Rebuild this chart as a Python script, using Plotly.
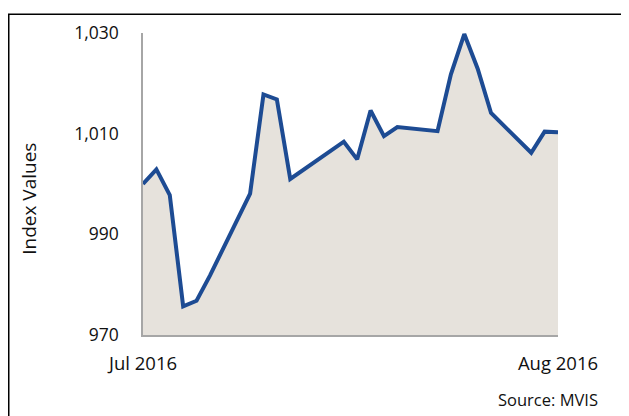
import plotly.graph_objects as go

# Data (calendar days in July 2016, weekends/holidays missing)
dates = [
    "2016-07-01", "2016-07-02", "2016-07-03", "2016-07-04", "2016-07-05", "2016-07-06",
    "2016-07-09", "2016-07-10", "2016-07-11", "2016-07-12",
    "2016-07-16", "2016-07-17", "2016-07-18", "2016-07-19", "2016-07-20",
    "2016-07-23", "2016-07-24", "2016-07-25", "2016-07-26", "2016-07-27",
    "2016-07-30", "2016-07-31", "2016-08-01",
]
index_values = [
    1000.0, 1002.9, 997.8, 975.7, 976.8, 981.8,
    998.1, 1017.8, 1016.8, 1001.0,
    1008.4, 1004.9, 1014.6, 1009.5, 1011.3,
    1010.5, 1021.8, 1029.8, 1022.9, 1014.1,
    1006.2, 1010.4, 1010.3,
]

x_tick_vals = ["2016-07-01", "2016-08-01"]
x_tick_text = ["Jul 2016", "Aug 2016"]
y_tick_vals = [970, 990, 1010, 1030]
y_tick_text = ["970", "990", "1,010", "1,030"]

# page body adds an 8px offset; figure is sized to fill the rest of the window
W, H = 621, 408
ML, MR, MT, MB = 135, 71, 21, 81
PW = W - ML - MR
PH = H - MT - MB


def px_x(x):
    return (x - ML) / PW


def px_y(y):
    return (H - MB - y) / PH


font_family = "Open Sans, Liberation Sans, sans-serif"

fig = go.Figure()
fig.add_trace(go.Scatter(
    x=dates,
    y=index_values,
    mode="lines",
    fill="tozeroy",
    fillcolor="#E6E2DC",
    line=dict(color="#1D4B93", width=4),
    hoverinfo="x+y",
    showlegend=False,
))

fig.update_layout(
    width=W,
    height=H,
    margin=dict(l=ML, r=MR, t=MT, b=MB, pad=0),
    paper_bgcolor="white",
    plot_bgcolor="white",
    font=dict(family=font_family, size=16, color="#111111"),
    xaxis=dict(
        type="date",
        range=[x_tick_vals[0], x_tick_vals[-1]],
        tickmode="array",
        tickvals=x_tick_vals,
        ticktext=x_tick_text,
        showgrid=False,
        zeroline=False,
        showline=True,
        linecolor="#A6A6A6",
        linewidth=1.5,
        ticks="",
        ticklabelstandoff=11,
        tickfont=dict(size=18.5),
        fixedrange=True,
    ),
    yaxis=dict(
        range=[970, 1030],
        tickmode="array",
        tickvals=y_tick_vals,
        ticktext=y_tick_text,
        showgrid=False,
        zeroline=False,
        showline=True,
        linecolor="#A6A6A6",
        linewidth=1.5,
        ticks="",
        ticklabelstandoff=19,
        tickfont=dict(size=17.5),
        fixedrange=True,
    ),
    annotations=[
        dict(
            text="Index Values",
            xref="paper", yref="paper",
            x=px_x(21), y=px_y(189),
            xanchor="center", yanchor="middle",
            textangle=-90,
            showarrow=False,
            font=dict(size=19),
        ),
        dict(
            text="Source: MVIS",
            xref="paper", yref="paper",
            x=px_x(592), y=px_y(392),
            xanchor="right", yanchor="middle",
            showarrow=False,
            font=dict(size=16.5),
        ),
    ],
    shapes=[
        dict(type="line", xref="paper", yref="paper",
             x0=px_x(0), x1=px_x(640), y0=px_y(2), y1=px_y(2),
             line=dict(color="black", width=1.5)),
        dict(type="line", xref="paper", yref="paper",
             x0=px_x(0.75), x1=px_x(0.75), y0=px_y(2), y1=px_y(430),
             line=dict(color="black", width=1.5)),
    ],
)

fig.write_html("out.html")
